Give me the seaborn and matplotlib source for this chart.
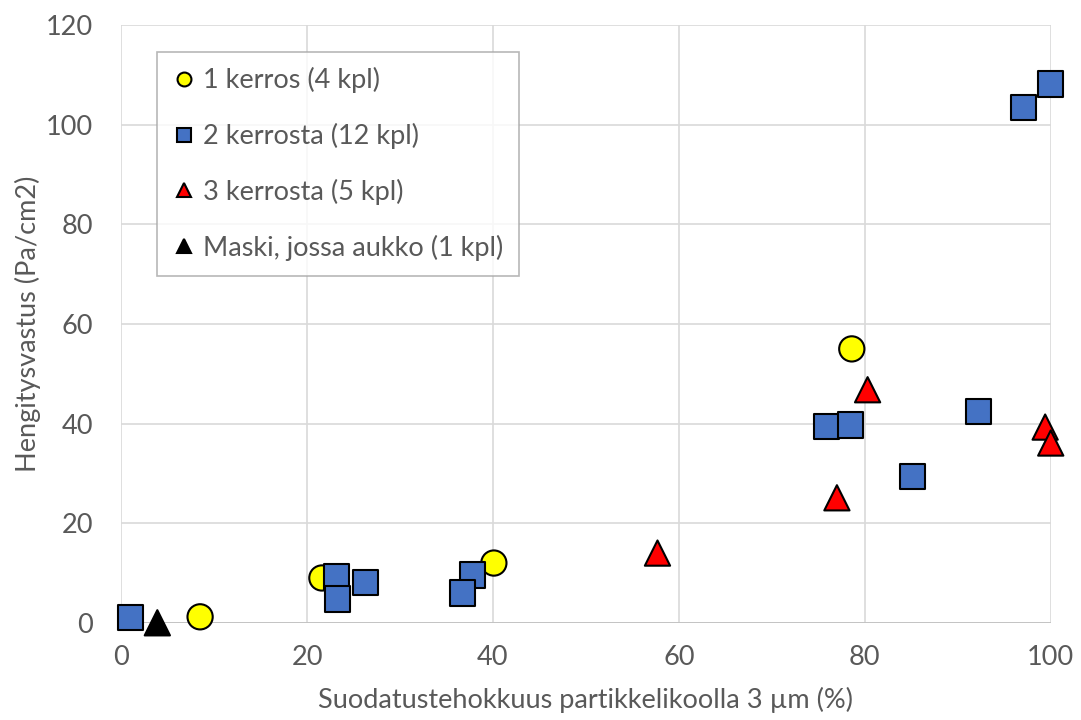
import pandas as pd
import matplotlib.pyplot as plt
import seaborn as sns

# data
x_1k = [8.5, 21.6, 40.1, 78.6]
y_1k = [1.2, 9.0, 12.0, 55.0]

x_2k = [1.0, 23.2, 23.3, 26.3, 37.8, 36.7, 75.9, 78.5, 92.2, 85.1, 97.1, 100.0]
y_2k = [1.0, 9.2, 4.8, 8.1, 9.6, 6.0, 39.4, 39.7, 42.5, 29.4, 103.5, 108.2]

x_3k = [57.7, 77.0, 80.3, 99.4, 100.0]
y_3k = [14.0, 25.1, 46.8, 39.3, 36.1]

x_mask = [3.9]
y_mask = [0.0]

labels = ["1 kerros (4 kpl)", "2 kerrosta (12 kpl)", "3 kerrosta (5 kpl)",
          "Maski, jossa aukko (1 kpl)"]

df = pd.concat([
    pd.DataFrame({"x": x_1k, "y": y_1k, "ryhma": labels[0]}),
    pd.DataFrame({"x": x_2k, "y": y_2k, "ryhma": labels[1]}),
    pd.DataFrame({"x": x_3k, "y": y_3k, "ryhma": labels[2]}),
    pd.DataFrame({"x": x_mask, "y": y_mask, "ryhma": labels[3]}),
])

sns.set_style("white")
plt.rcParams['font.family'] = ['Lato', 'DejaVu Sans']

fig = plt.figure(figsize=(10.81, 7.2), dpi=100)
ax = fig.add_axes([0.112, 0.135, 0.860, 0.830])

palette = {labels[0]: "#ffff00", labels[1]: "#4472c4", labels[2]: "#ff0000", labels[3]: "#000000"}
markers = {labels[0]: "o", labels[1]: "s", labels[2]: "^", labels[3]: "^"}

sns.scatterplot(data=df, x="x", y="y", hue="ryhma", style="ryhma",
                palette=palette, markers=markers, hue_order=labels, style_order=labels,
                s=330, edgecolor="black", linewidth=1.5, ax=ax, zorder=3, clip_on=False)

ax.set_xlim(0, 100)
ax.set_ylim(0, 120)
ax.set_xticks(range(0, 101, 20))
ax.set_yticks(range(0, 121, 20))
ax.grid(True, color="#d9d9d9", linewidth=1.2)
ax.set_axisbelow(True)
for s in ax.spines.values():
    s.set_visible(False)
ax.axhline(0, color="#bfbfbf", linewidth=1.2, zorder=1)

ax.tick_params(axis="both", labelsize=19.5, labelcolor="#595959", length=0)
ax.tick_params(axis="y", pad=20)
ax.tick_params(axis="x", pad=16)
ax.set_xlabel("Suodatustehokkuus partikkelikoolla 3 µm (%)", fontsize=19.5, color="#595959", labelpad=12)
ax.set_ylabel("Hengitysvastus (Pa/cm2)", fontsize=19.5, color="#595959", labelpad=4)

leg = ax.legend(loc="upper left", bbox_to_anchor=(0.039, 0.955), borderaxespad=0,
                fontsize=19.5, markerscale=0.55,
                frameon=True, fancybox=False, edgecolor="#a6a6a6", labelspacing=1.1,
                handletextpad=0.25, borderpad=0.55, handlelength=0.9)
for t in leg.get_texts():
    t.set_color("#595959")
leg.get_frame().set_linewidth(1.2)

fig.savefig("out.png", dpi=100)
